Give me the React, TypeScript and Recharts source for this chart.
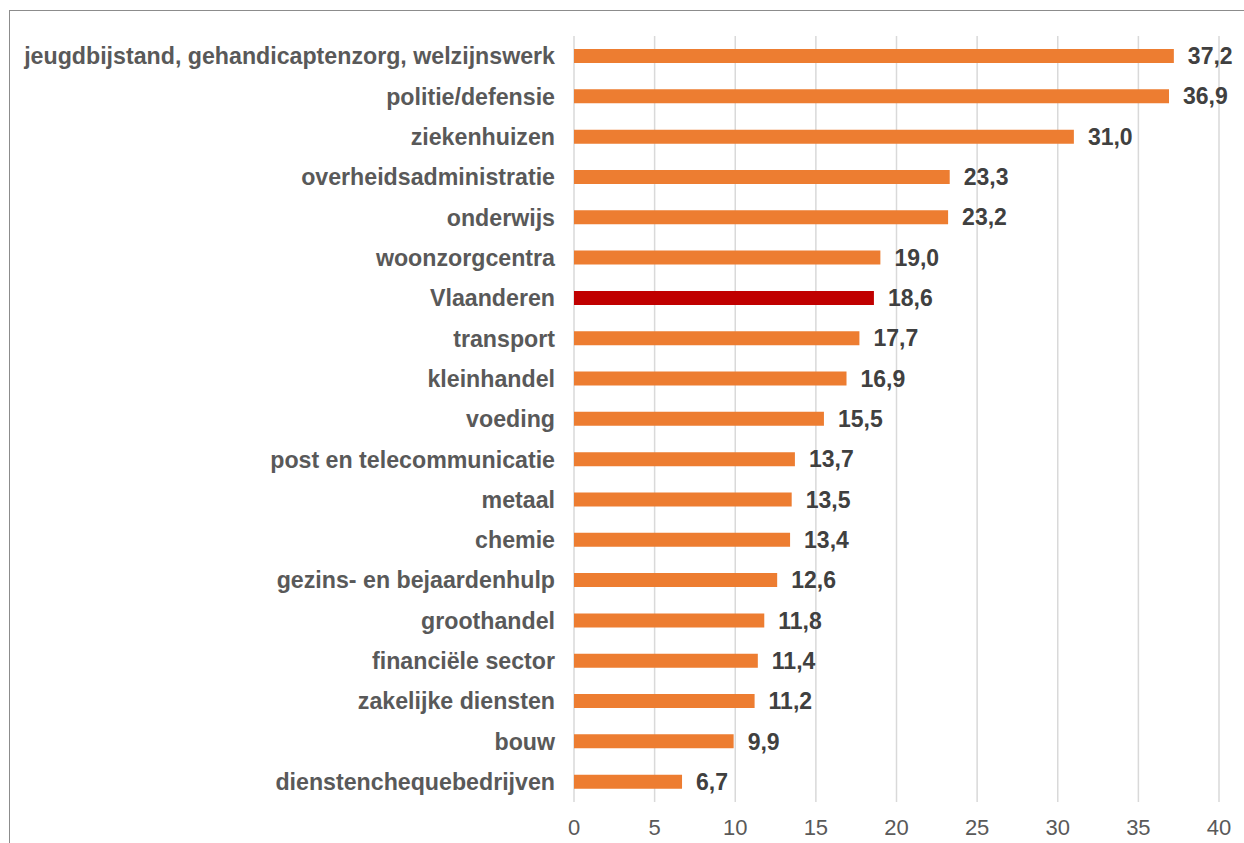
import React from "react";
import {
	BarChart,
	Bar,
	Cell,
	XAxis,
	YAxis,
	CartesianGrid,
	LabelList,
} from "recharts";

const sectors = [
	"jeugdbijstand, gehandicaptenzorg, welzijnswerk",
	"politie/defensie",
	"ziekenhuizen",
	"overheidsadministratie",
	"onderwijs",
	"woonzorgcentra",
	"Vlaanderen",
	"transport",
	"kleinhandel",
	"voeding",
	"post en telecommunicatie",
	"metaal",
	"chemie",
	"gezins- en bejaardenhulp",
	"groothandel",
	"financiële sector",
	"zakelijke diensten",
	"bouw",
	"dienstenchequebedrijven",
];

const percentages = [
	37.2, 36.9, 31.0, 23.3, 23.2, 19.0, 18.6, 17.7, 16.9, 15.5, 13.7, 13.5, 13.4,
	12.6, 11.8, 11.4, 11.2, 9.9, 6.7,
];

const xTicks = [0, 5, 10, 15, 20, 25, 30, 35, 40];

const highlighted = "Vlaanderen";

const rows = sectors.map((name, i) => ({ name, value: percentages[i] }));

const font = '"Liberation Sans", Arial, sans-serif';

const formatValue = (v: any) => Number(v).toFixed(1).replace(".", ",");

export default function App() {
	return (
		<div>
			{/* thin frame along top and left edge */}
			<div
				style={{
					position: "absolute",
					left: 9,
					top: 10,
					width: 1400,
					height: 1000,
					borderTop: "1px solid #8c8c8c",
					borderLeft: "1px solid #8c8c8c",
				}}
			/>
			<div style={{ position: "absolute", left: 0, top: 0 }}>
				<BarChart
					width={1244}
					height={843}
					data={rows}
					layout="vertical"
					margin={{ top: 36, right: 25, left: 0, bottom: 0 }}
				>
					<CartesianGrid
						horizontal={false}
						stroke="#d9d9d9"
						strokeWidth={1.5}
					/>
					<XAxis
						type="number"
						domain={[0, 40]}
						ticks={xTicks}
						height={41}
						axisLine={false}
						tickLine={false}
						tickMargin={11}
						tick={{ fill: "#595959", fontSize: 22, fontFamily: font }}
					/>
					<YAxis
						type="category"
						dataKey="name"
						width={574}
						axisLine={false}
						tickLine={false}
						tickMargin={13}
						interval={0}
						tick={{
							fill: "#595959",
							fontSize: 23.2,
							fontWeight: "bold",
							fontFamily: font,
						}}
					/>
					<Bar dataKey="value" barSize={14} isAnimationActive={false}>
						{rows.map((r) => (
							<Cell
								key={r.name}
								fill={r.name === highlighted ? "#c00000" : "#ed7d31"}
							/>
						))}
						<LabelList
							dataKey="value"
							position="right"
							offset={14}
							formatter={formatValue}
							fill="#404040"
							fontSize={23}
							fontWeight="bold"
							fontFamily={font}
						/>
					</Bar>
				</BarChart>
			</div>
		</div>
	);
}
